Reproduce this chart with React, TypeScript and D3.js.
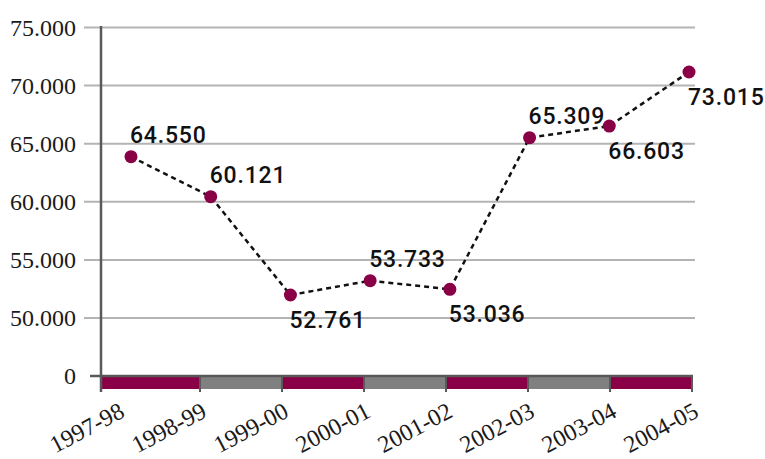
import React from "react";
import * as d3 from "d3";

const categories = ["1997-98", "1998-99", "1999-00", "2000-01", "2001-02", "2002-03", "2003-04", "2004-05"];
// plotted values (thousands)
const values = [63.88, 60.44, 51.98, 53.21, 52.47, 65.52, 66.52, 71.17];
// printed data labels
const valueLabels = ["64.550", "60.121", "52.761", "53.733", "53.036", "65.309", "66.603", "73.015"];
const labelPlacement = ["above", "above", "below", "above", "below", "above", "below", "below"];
const yTicks = [0, 50, 55, 60, 65, 70, 75];
const yTickLabels = ["0", "50.000", "55.000", "60.000", "65.000", "70.000", "75.000"];

const W = 765;
const H = 459;
const PURPLE = "#8a0047";
const GREY_BAND = "#808080";
const AXIS = "#595959";
const GRID = "#b4b4b4";
const SERIF = "'Liberation Serif', 'Times New Roman', serif";

export default function App() {
  const y = d3.scaleLinear().domain([0, 50, 75]).range([376, 318, 27.5]);
  const xPts = d3.scalePoint<string>().domain(categories).range([131, 689]);
  const xBand = d3.scalePoint<string>().domain(categories).range([118, 692]);
  const axisX = 101;
  const gridLeft = 84;
  const gridRight = 695;
  const bandTop = 376;
  const bandBottom = 389;

  const line = d3
    .line<number>()
    .x((_, i) => xPts(categories[i]) as number)
    .y((d) => y(d));

  const segs = categories.slice(0, -1).map((c, i) => ({
    x0: i === 0 ? axisX : (xBand(c) as number),
    x1: xBand(categories[i + 1]) as number,
    fill: i % 2 === 0 ? PURPLE : GREY_BAND,
  }));

  return (
    <svg width={W} height={H} style={{ position: "absolute", left: 0, top: 0, background: "#fff" }}>
      {yTicks.filter((t) => t > 0).map((t) => (
        <line key={t} x1={gridLeft} x2={gridRight} y1={y(t)} y2={y(t)} stroke={GRID} strokeWidth={2} />
      ))}
      {yTicks.map((t, i) => (
        <text
          key={"yl" + t}
          x={76}
          y={y(t) + 8}
          textAnchor="end"
          fontFamily={SERIF}
          fontSize={24}
          fill="#1a1a1a"
        >
          {yTickLabels[i]}
        </text>
      ))}
      {segs.map((s, i) => (
        <rect key={"s" + i} x={s.x0} y={bandTop} width={s.x1 - s.x0} height={bandBottom - bandTop} fill={s.fill} />
      ))}
      {categories.slice(1).map((c) => (
        <line key={"bt" + c} x1={xBand(c)} x2={xBand(c)} y1={bandTop} y2={392} stroke={AXIS} strokeWidth={2} />
      ))}
      <line x1={90} x2={693} y1={y(0)} y2={y(0)} stroke={AXIS} strokeWidth={2.5} />
      <line x1={axisX} x2={axisX} y1={26} y2={392} stroke={AXIS} strokeWidth={2.5} />
      {categories.map((c) => {
        const ax = (xBand(c) as number) + 8;
        const ay = 416;
        return (
          <text
            key={"xl" + c}
            x={ax}
            y={ay}
            textAnchor="end"
            transform={`rotate(-28, ${ax}, ${ay})`}
            fontFamily={SERIF}
            fontSize={24}
            fill="#1a1a1a"
          >
            {c}
          </text>
        );
      })}
      <path d={line(values) || ""} fill="none" stroke="#111" strokeWidth={2.5} strokeDasharray="5,4" />
      {values.map((v, i) => (
        <circle key={"p" + i} cx={xPts(categories[i])} cy={y(v)} r={6.5} fill={PURPLE} />
      ))}
      {values.map((v, i) => {
        const px = xPts(categories[i]) as number;
        const py = y(v);
        const above = labelPlacement[i] === "above";
        return (
          <text
            key={"dl" + i}
            x={px - 1}
            y={above ? py - 14 : py + 33}
            fontFamily="Roboto, sans-serif"
            fontSize={23}
            fontWeight={500}
            letterSpacing={0.8}
            fill="#111"
          >
            {valueLabels[i]}
          </text>
        );
      })}
    </svg>
  );
}
